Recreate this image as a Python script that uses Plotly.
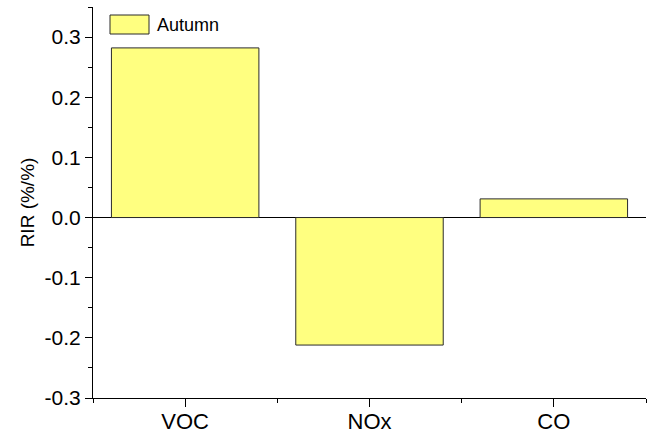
import plotly.graph_objects as go

# Relative incremental reactivity by precursor group (autumn)
categories = ["VOC", "NOx", "CO"]
rir_autumn = [0.282, -0.212, 0.031]

y_tick_values = [-0.3, -0.2, -0.1, 0.0, 0.1, 0.2, 0.3]
y_tick_labels = ["-0.3", "-0.2", "-0.1", "0.0", "0.1", "0.2", "0.3"]

positions = list(range(len(categories)))

fig = go.Figure()
fig.add_trace(go.Bar(
    x=positions,
    y=rir_autumn,
    width=0.8,
    marker=dict(color="#FFFF80", line=dict(color="#2b2b2b", width=1)),
    name="Autumn",
    showlegend=False,
))

font_family = "Liberation Sans, Arial, sans-serif"

fig.update_layout(
    width=655,
    height=438,
    margin=dict(l=93, r=9, t=7, b=40),
    paper_bgcolor="white",
    plot_bgcolor="white",
    font=dict(family=font_family, size=18, color="black"),
    xaxis=dict(
        automargin=False,
        range=[-0.5, 2.5],
        tickmode="array",
        tickvals=positions,
        ticktext=categories,
        ticks="outside",
        ticklen=8,
        tickwidth=1,
        tickcolor="black",
        ticklabelstandoff=-4,
        showline=True,
        linecolor="black",
        linewidth=1,
        showgrid=False,
        zeroline=False,
        minor=dict(tickmode="linear", tick0=-0.5, dtick=1, ticks="outside",
                   ticklen=4, tickwidth=1, tickcolor="black", showgrid=False),
        tickfont=dict(size=22),
    ),
    yaxis=dict(
        automargin=False,
        range=[-0.3, 0.35],
        tickmode="array",
        tickvals=y_tick_values,
        ticktext=y_tick_labels,
        ticks="outside",
        ticklen=7,
        tickwidth=1,
        tickcolor="black",
        showline=True,
        linecolor="black",
        linewidth=1,
        showgrid=False,
        zeroline=True,
        zerolinecolor="black",
        zerolinewidth=1,
        minor=dict(tickmode="linear", tick0=-0.25, dtick=0.1, ticks="outside",
                   ticklen=4, tickwidth=1, tickcolor="black", showgrid=False),
        title=dict(text="RIR (%/%)", font=dict(size=19), standoff=4),
        tickfont=dict(size=21),
    ),
)

# Legend swatch and label
fig.add_shape(
    type="rect", xref="paper", yref="paper",
    x0=(110 - 93) / 553, x1=(149 - 93) / 553,
    y0=(398 - 34) / 391, y1=(398 - 15) / 391,
    fillcolor="#FFFF80", line=dict(color="#2b2b2b", width=1),
)
fig.add_annotation(
    xref="paper", yref="paper",
    x=(155 - 93) / 553, y=(398 - 24.5) / 391,
    text="Autumn", showarrow=False,
    xanchor="left", yanchor="middle",
    font=dict(family=font_family, size=18, color="black"),
)

fig.write_html("out.html")
